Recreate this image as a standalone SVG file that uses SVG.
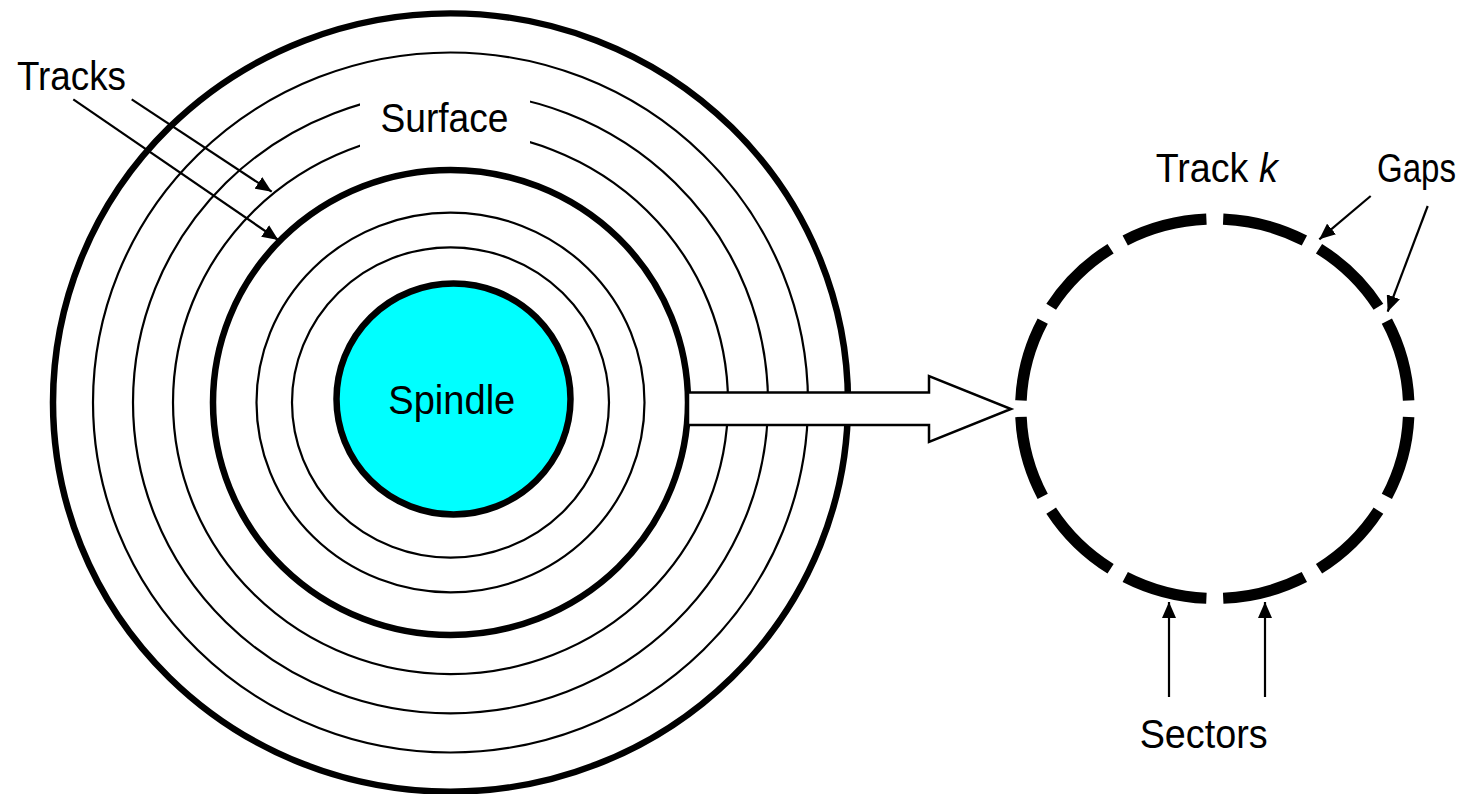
<svg xmlns="http://www.w3.org/2000/svg" width="1469" height="794" viewBox="0 0 1469 794">
  <style>
    .lbl { font-family: "Liberation Sans", Arial, sans-serif; font-size: 41px; fill: #000; }
    .thick { fill: none; stroke: #000; stroke-width: 6.5; }
    .thin { fill: none; stroke: #000; stroke-width: 2.2; }
    .ptr { fill: none; stroke: #000; stroke-width: 2.2; marker-end: url(#ah); }
  </style>
  <defs>
    <marker id="ah" markerUnits="userSpaceOnUse" markerWidth="17" markerHeight="14" refX="16" refY="7" orient="auto">
      <path d="M0,0 L16,7 L0,14 z" fill="#000"/>
    </marker>
  </defs>
  <rect width="1469" height="794" fill="#fff"/>

  <g id="disk" transform="translate(450.5,402.5) scale(1,0.979)">
    <circle class="thick" r="397.5"/>
    <circle class="thin" r="357.5"/>
    <circle class="thin" r="317.5"/>
    <circle class="thin" r="277.5"/>
    <circle class="thick" r="237.5"/>
    <circle class="thin" r="194"/>
    <circle class="thin" r="158.5"/>
  </g>

  <g id="surface">
    <rect x="360" y="85" width="170" height="70" fill="#fff"/>
    <text class="lbl" x="444.5" y="132.3" text-anchor="middle" textLength="128" lengthAdjust="spacingAndGlyphs">Surface</text>
  </g>

  <g id="spindle">
    <ellipse cx="453.5" cy="399" rx="117" ry="115.5" fill="#00ffff" stroke="#000" stroke-width="6.5"/>
    <text class="lbl" x="451.8" y="414" text-anchor="middle" textLength="127" lengthAdjust="spacingAndGlyphs">Spindle</text>
  </g>

  <g id="track-k">
    <g transform="translate(1214.8,408.7) scale(1,0.978)">
      <circle r="194" pathLength="360" fill="none" stroke="#000" stroke-width="11.5" stroke-dasharray="25 5" stroke-dashoffset="27.5"/>
    </g>
    <text class="lbl" x="1216.7" y="181.7" text-anchor="middle" textLength="122" lengthAdjust="spacingAndGlyphs">Track <tspan font-style="italic">k</tspan></text>
  </g>

  <g id="tracks-label">
    <text class="lbl" x="17" y="90" textLength="109" lengthAdjust="spacingAndGlyphs">Tracks</text>
  </g>
  <g id="gaps-label">
    <text class="lbl" x="1456" y="181.7" text-anchor="end" textLength="79" lengthAdjust="spacingAndGlyphs">Gaps</text>
  </g>
  <g id="sectors-label">
    <text class="lbl" x="1203.7" y="748" text-anchor="middle" textLength="128" lengthAdjust="spacingAndGlyphs">Sectors</text>
  </g>

  <g id="connectors">
    <polygon points="688,392.5 929,392.5 929,376 1011,409 929,442 929,425 688,425" fill="#fff" stroke="#000" stroke-width="2.5" stroke-linejoin="miter"/>
    <line class="ptr" x1="131.7" y1="99.3" x2="271.7" y2="191.7"/>
    <line class="ptr" x1="73.3" y1="99.3" x2="278.3" y2="240"/>
    <line class="ptr" x1="1370.7" y1="196" x2="1319.3" y2="239.3"/>
    <line class="ptr" x1="1427.7" y1="206" x2="1387.7" y2="311.7"/>
    <line class="ptr" x1="1169" y1="697" x2="1169" y2="602"/>
    <line class="ptr" x1="1265" y1="697" x2="1265" y2="602"/>
  </g>
</svg>
